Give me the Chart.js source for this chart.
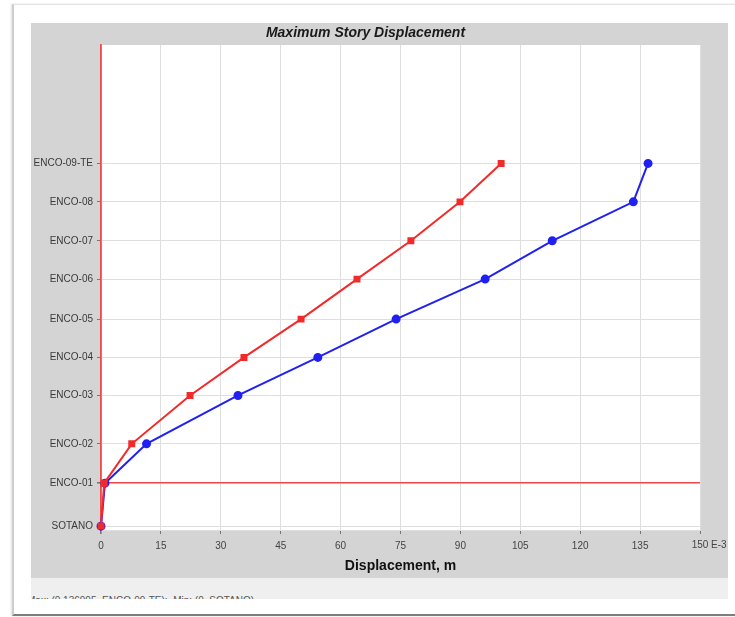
<!DOCTYPE html>
<html>
<head>
<meta charset="utf-8">
<title>Maximum Story Displacement</title>
<script src="https://cdn.jsdelivr.net/npm/chart.js@4.4.1/dist/chart.umd.min.js"></script>
<style>
  html, body { margin: 0; padding: 0; background: #ffffff; }
  body { width: 735px; height: 617px; position: relative; overflow: hidden; font-family: "Liberation Sans", Arial, sans-serif; }
  #frame {
    position: absolute; left: 12px; top: 4px; width: 740px; height: 609px;
    border-left: 2px solid #cdcdcd; border-top: 1px solid #e4e4e4; border-bottom: 2px solid #7d7d7d;
    box-shadow: -1px 0 2px rgba(0,0,0,0.12);
    background: #ffffff;
  }
  #panel { position: absolute; left: 31px; top: 23px; width: 697px; height: 555px; background: #d4d4d4; }
  #status {
    position: absolute; left: 31px; top: 578px; width: 697px; height: 21px;
    background: #efefef; overflow: hidden;
  }
  #status span {
    position: absolute; left: -4px; top: 17px; white-space: pre;
    font: 10px "Liberation Sans", Arial, sans-serif; color: #555;
  }
</style>
</head>
<body>
<div id="frame"></div>
<div id="panel"><canvas id="chart"></canvas></div>
<div id="status"><span id="statusText"></span></div>
<script>
// Story names and their elevations (m)
const storyNames = ['SOTANO', 'ENCO-01', 'ENCO-02', 'ENCO-03', 'ENCO-04', 'ENCO-05',
                    'ENCO-06', 'ENCO-07', 'ENCO-08', 'ENCO-09-TE'];
const storyElev = [0, 3.33, 6.38, 10.13, 13.08, 16.05, 19.15, 22.12, 25.14, 28.12];

// Maximum displacement per story, in E-3 m
const dispX = [0, 0.8, 7.7, 22.3, 35.8, 50.1, 64.1, 77.6, 89.9, 100.2];
const dispY = [0, 1.0, 11.4, 34.3, 54.3, 73.9, 96.2, 113.0, 133.3, 136.995];

// Displacement axis ticks (E-3 m)
const xTicks = [0, 15, 30, 45, 60, 75, 90, 105, 120, 135, 150];

const FONT = '"Liberation Sans", Arial, sans-serif';
const GRID = '#dedede';
const BASE_RED = '#f04848';

const toPoints = vals => vals.map((v, i) => ({ x: v, y: storyElev[i] }));

// Status line: max and min of the envelope
const maxVal = Math.max(...dispY);
const maxStory = storyNames[dispY.indexOf(maxVal)];
const minVal = Math.min(...dispX, ...dispY);
document.getElementById('statusText').textContent =
  'Max: (' + (maxVal / 1000).toFixed(6) + ', ' + maxStory + ');  Min: (' + minVal + ', ' + storyNames[0] + ')';

// White plotting field inside the grey panel
const plotField = {
  id: 'plotField',
  beforeDraw(chart) {
    const a = chart.chartArea;
    const ctx = chart.ctx;
    ctx.save();
    ctx.fillStyle = '#ffffff';
    ctx.fillRect(a.left, a.top, a.right - a.left, a.bottom - a.top);
    ctx.restore();
  }
};

// Last displacement tick with its units suffix
const unitSuffix = {
  id: 'unitSuffix',
  afterDraw(chart) {
    const sx = chart.scales.x;
    const last = xTicks[xTicks.length - 1];
    const ctx = chart.ctx;
    ctx.save();
    ctx.font = '10px ' + FONT;
    ctx.fillStyle = '#444';
    ctx.textAlign = 'left';
    ctx.textBaseline = 'top';
    const x = sx.getPixelForValue(last) - ctx.measureText(String(last)).width / 2;
    ctx.fillText(last + ' E-3', x, sx.top + 4 + 6);
    ctx.restore();
  }
};

new Chart(document.getElementById('chart'), {
  type: 'scatter',
  data: {
    datasets: [
      {
        label: 'Story Max Disp X',
        data: toPoints(dispX),
        showLine: true,
        borderColor: '#f22a2a',
        backgroundColor: '#f22a2a',
        borderWidth: 2,
        pointStyle: 'rect',
        pointRadius: 3.5,
        pointHoverRadius: 3.5,
        clip: false
      },
      {
        label: 'Story Max Disp Y',
        data: toPoints(dispY),
        showLine: true,
        borderColor: '#2020f0',
        backgroundColor: '#2020f0',
        borderWidth: 2,
        pointStyle: 'circle',
        pointRadius: 3.5,
        pointHoverRadius: 3.5,
        clip: false
      }
    ]
  },
  options: {
    responsive: true,
    maintainAspectRatio: false,
    animation: false,
    layout: { padding: { left: 0, right: 28, top: 0, bottom: 0 } },
    plugins: {
      legend: { display: false },
      tooltip: { enabled: false },
      title: {
        display: true,
        text: 'Maximum Story Displacement',
        color: '#1a1a1a',
        font: { family: FONT, size: 14, weight: 'bold', style: 'italic' },
        padding: { top: 2, bottom: 3.2 }
      }
    },
    scales: {
      x: {
        type: 'linear',
        min: xTicks[0],
        max: xTicks[xTicks.length - 1],
        afterBuildTicks(scale) { scale.ticks = xTicks.map(v => ({ value: v })); },
        afterFit(scale) { scale.height = 48; },
        ticks: {
          color: '#444',
          font: { family: FONT, size: 10 },
          padding: 6,
          maxRotation: 0,
          callback: v => (v === xTicks[xTicks.length - 1] ? '' : String(v))
        },
        grid: {
          color: ctx => (ctx.tick && ctx.tick.value === 0 ? BASE_RED : GRID),
          lineWidth: ctx => (ctx.tick && ctx.tick.value === 0 ? 1.6 : 1),
          tickColor: '#777',
          tickLength: 4
        },
        border: { display: true, color: GRID },
        title: {
          display: true,
          text: 'Displacement, m',
          color: '#111',
          font: { family: FONT, size: 14, weight: 'bold' },
          padding: { top: 0, bottom: 3 }
        }
      },
      y: {
        type: 'linear',
        min: -0.3,
        max: 37.3,
        afterBuildTicks(scale) { scale.ticks = storyElev.map(v => ({ value: v })); },
        afterFit(scale) { scale.width = 70; },
        ticks: {
          color: '#3a3a3a',
          font: { family: FONT, size: 10 },
          padding: 4,
          callback: v => {
            const i = storyElev.indexOf(v);
            return i >= 0 ? storyNames[i] : '';
          }
        },
        grid: {
          color: ctx => (ctx.tick && ctx.tick.value === storyElev[1] ? BASE_RED : GRID),
          lineWidth: ctx => (ctx.tick && ctx.tick.value === storyElev[1] ? 1.6 : 1),
          tickColor: '#777',
          tickLength: 4
        },
        border: { display: true, color: BASE_RED, width: 1.6 }
      }
    }
  },
  plugins: [plotField, unitSuffix]
});
</script>
</body>
</html>
